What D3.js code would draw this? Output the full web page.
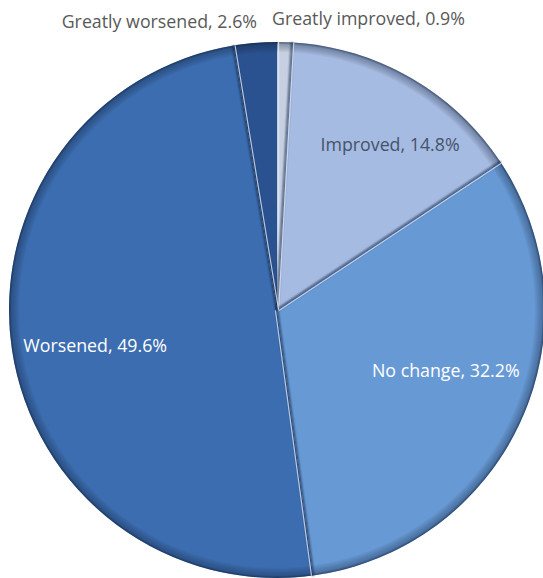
<!DOCTYPE html>
<html><head><meta charset="utf-8">
<script src="https://cdn.jsdelivr.net/npm/d3@7"></script>
<style>body{margin:0;background:#fff}svg{display:block}</style>
</head><body>
<svg id="c" width="543" height="578"></svg>
<script>
const categories = ["Greatly improved","Improved","No change","Worsened","Greatly worsened"];
const values = [0.9,14.8,32.2,49.6,2.6];
const colors = ["#c6d0e2","#a6bbe2","#6799d5","#3c6db0","#2a5290"];
const labelColors = ["#595959","#44546a","#ffffff","#ffffff","#595959"];

const W=543,H=578, cx=277, cy=310, R=268;
const svg=d3.select("#c");
const defs=svg.append("defs");
const rg=defs.append("radialGradient").attr("id","rim").attr("cx",cx).attr("cy",cy).attr("r",R).attr("gradientUnits","userSpaceOnUse");
rg.append("stop").attr("offset","0.96").attr("stop-color","#000").attr("stop-opacity",0);
rg.append("stop").attr("offset","0.99").attr("stop-color","#0a1a33").attr("stop-opacity",0.3);
rg.append("stop").attr("offset","1").attr("stop-color","#0a1a33").attr("stop-opacity",0.65);

const f=defs.append("filter").attr("id","blur").attr("x","-10%").attr("y","-10%").attr("width","120%").attr("height","120%");
f.append("feGaussianBlur").attr("stdDeviation",1.2);

const data=categories.map((c,i)=>({c,v:values[i],col:colors[i],lc:labelColors[i]}));
const pie=d3.pie().sort(null).value(d=>d.v);
const arcs=pie(data);
const arc=d3.arc().innerRadius(0).outerRadius(R);
const g=svg.append("g").attr("transform",`translate(${cx},${cy})`);

g.selectAll("path.s").data(arcs).join("path").attr("class","s")
 .attr("d",arc).attr("fill",d=>d.data.col);
g.append("circle").attr("r",R).attr("fill","url(#rim)").attr("transform",`translate(${-cx},${-cy})`).attr("cx",cx).attr("cy",cy);
const edge=(a)=>[[0,0],[Math.sin(a)*R,-Math.cos(a)*R]];
const line=d3.line();
arcs.forEach((d,i)=>{
  const a=d.startAngle;
  g.append("path").attr("d",line(edge(a))).attr("stroke","#0d2240").attr("stroke-width",2.2).attr("opacity",0.75).attr("filter","url(#blur)");
  g.append("path").attr("d",line(edge(a))).attr("stroke","#dfe9f8").attr("stroke-width",1.2).attr("opacity",0.8)
   .attr("transform",`translate(${Math.cos(a)*1.6},${Math.sin(a)*1.6})`);
});

const lab=d3.arc().innerRadius(R*0.72).outerRadius(R*0.72);
const font="'Open Sans', sans-serif";
const inside={1:[17,8],2:[-7,-13],3:[9,13]};
arcs.forEach((d,i)=>{
  const t=`${d.data.c}, ${d.data.v.toFixed(1)}%`;
  let x,y,anchor="middle";
  if(i===0){x=cx-5;y=cy-R-17;anchor="start";}
  else if(i===4){x=cx-20;y=cy-R-14;anchor="end";}
  else{const c=lab.centroid(d);x=cx+c[0]+inside[i][0];y=cy+c[1]+inside[i][1];}
  svg.append("text").attr("x",x).attr("y",y).attr("text-anchor",anchor)
   .attr("font-family",font).attr("font-size",17.8).attr("fill",d.data.lc).text(t);
});
</script>
</body></html>
